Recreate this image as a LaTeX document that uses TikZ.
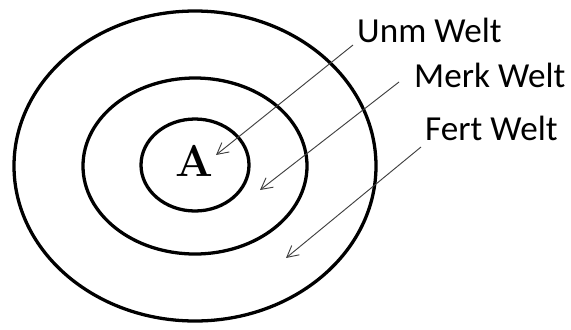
\documentclass[tikz,border=0pt]{standalone}
\usepackage{fontspec}
\newfontfamily\labelfont{Carlito}
\usetikzlibrary{arrows.meta,calc}

\begin{document}
\begin{tikzpicture}[
  x=0.03cm, y=-0.03cm,
  >={Straight Barb[length=3.4mm,width=3.6mm]},
  ring/.style={draw, line width=2.8pt},
  world/.style={font=\labelfont\fontsize{30}{34}\selectfont, inner sep=0pt, anchor=base west},
  pointer/.style={->, line width=0.8pt, black!75},
]
\useasboundingbox (0,0) rectangle (571,329);

% ============ RINGS ============
\draw[ring] (195,166) ellipse [x radius=181, y radius=155];
\draw[ring] (195,166) ellipse [x radius=112, y radius=88];
\draw[ring] (195,165) ellipse [x radius=54, y radius=46];
\node[font=\fontsize{38}{42}\selectfont\bfseries] (subj) at (194,161) {A};

% ============ LABELS ============
\node[world] (unm)  at (357,42)  {Unm Welt};
\node[world] (merk) at (414,87)  {Merk Welt};
\node[world] (fert) at (425,140) {Fert Welt};

% arrow ends inside the rings
\coordinate (inUnm)  at (216,155);
\coordinate (inMerk) at (260,190);
\coordinate (inFert) at (286,258);
\draw[pointer] ($(unm.base west)+(-4,3)$)   -- (inUnm);
\draw[pointer] ($(merk.base west)+(-15,-5)$) -- (inMerk);
\draw[pointer] ($(fert.base west)+(-4,7)$)  -- (inFert);

\end{tikzpicture}
\end{document}
